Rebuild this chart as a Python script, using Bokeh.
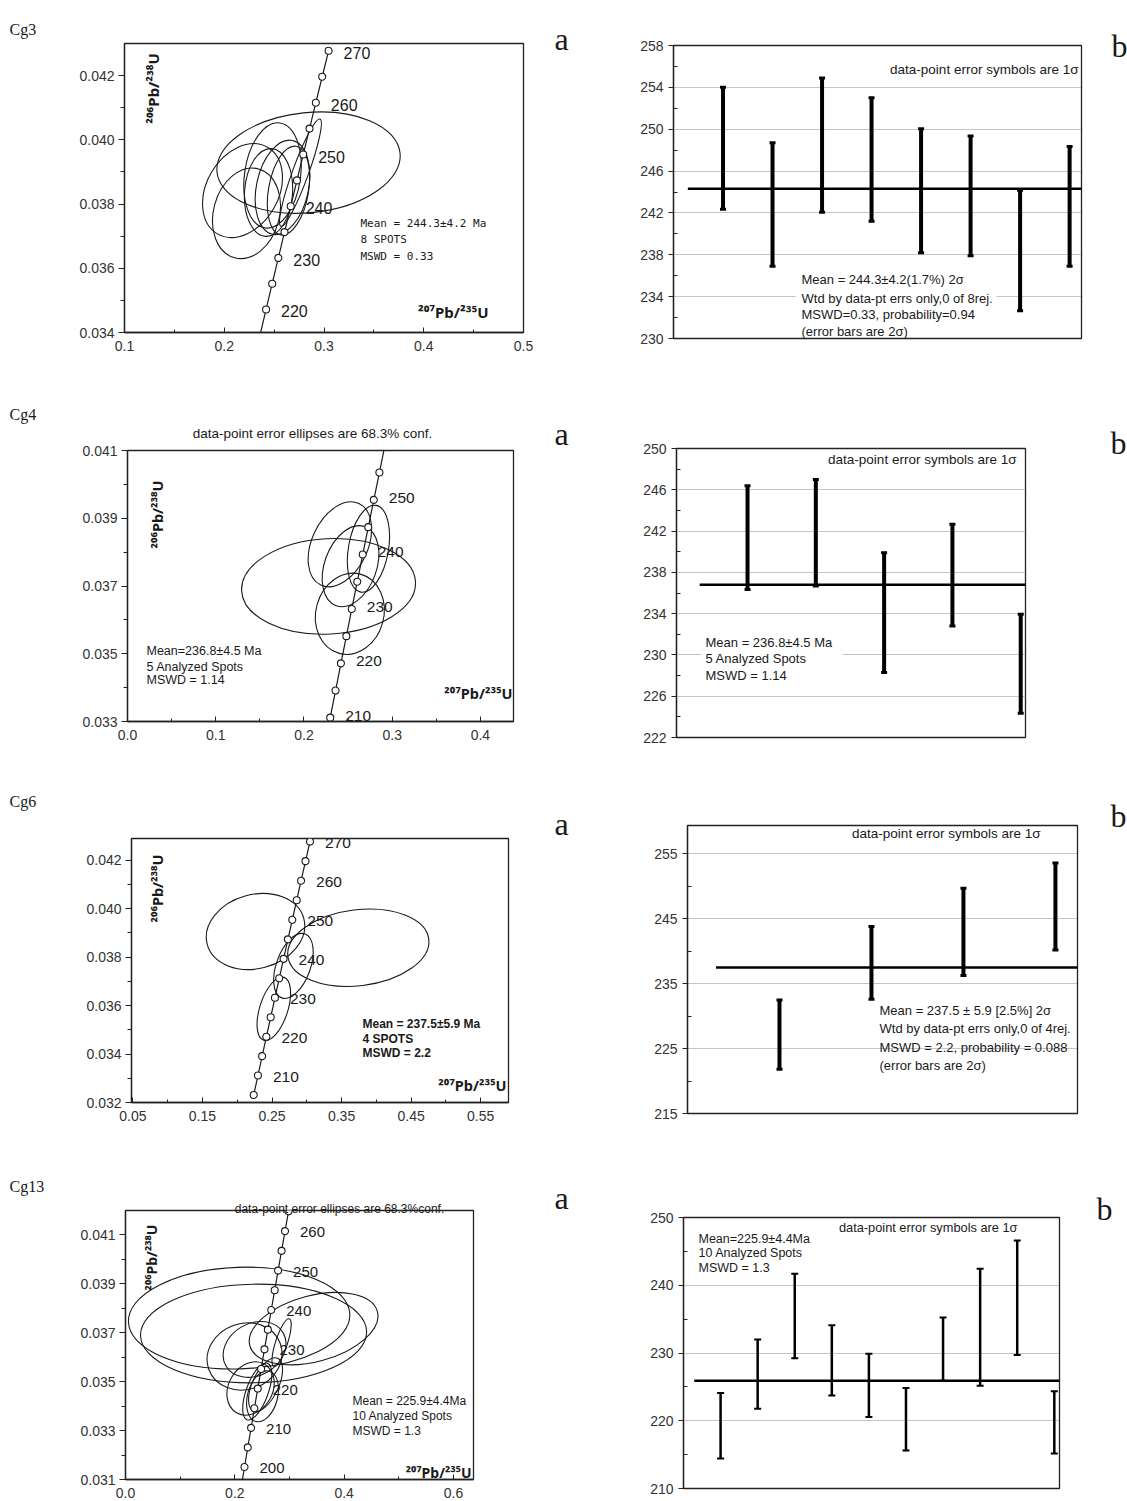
from bokeh.plotting import figure
from bokeh.layouts import column
from bokeh.models import FixedTicker, PrintfTickFormatter, Label, BoxAnnotation, GridBox
from bokeh.embed import file_html
from bokeh.resources import INLINE
from bokeh.core.properties import value

# ---------------- DATA ----------------
# concordia reference points (age in Ma, 207Pb/235U, 206Pb/238U)
conc_age = [195, 200, 205, 210, 215, 220, 225, 230, 235, 240, 245, 250, 255, 260, 265, 270, 275]
conc_r207 = [0.21173, 0.21771, 0.22372, 0.22976, 0.23583, 0.24193, 0.24806, 0.25422,
             0.26041, 0.26664, 0.27289, 0.27917, 0.28549, 0.29183, 0.29821, 0.30462, 0.31106]
conc_r206 = [0.030711, 0.031511, 0.032312, 0.033113, 0.033914, 0.034717, 0.035519, 0.036323,
             0.037127, 0.037931, 0.038737, 0.039543, 0.040350, 0.041157, 0.041965, 0.042773, 0.043582]

# Cg3 concordia ellipses
cg3_ell_x = [0.2845, 0.2183, 0.2223, 0.2484, 0.2584, 0.2764, 0.2644, 0.2444]
cg3_ell_y = [0.03929, 0.03842, 0.03771, 0.03889, 0.03852, 0.03898, 0.03842, 0.03836]
cg3_ell_w = [0.1845, 0.1003, 0.0922, 0.1063, 0.0962, 0.1143, 0.0902, 0.0882]
cg3_ell_h = [0.003114, 0.002242, 0.002055, 0.001744, 0.00162, 0.000498, 0.001246, 0.001495]
cg3_ell_ang = [6, 60, 75, 82, 78, 70, 80, 86]
cg3_ages = (215, 270)
cg3_age_labels = [220, 230, 240, 250, 260, 270]
cg3_x_ticks = [0.1, 0.2, 0.3, 0.4, 0.5]
cg3_x_minor = [0.15, 0.25, 0.35, 0.45]
cg3_y_ticks = [0.034, 0.036, 0.038, 0.040, 0.042]
cg3_y_minor = [0.035, 0.037, 0.039, 0.041]

# Cg4 concordia ellipses
cg4_ell_x = [0.2279, 0.2407, 0.2528, 0.2731, 0.2520]
cg4_ell_y = [0.03699, 0.03823, 0.037585, 0.03810, 0.03618]
cg4_ell_w = [0.1973, 0.1020, 0.0952, 0.0998, 0.0930]
cg4_ell_h = [0.002816, 0.001653, 0.001535, 0.001180, 0.002007]
cg4_ell_ang = [3, 65, 70, 80, 75]
cg4_ages = (205, 260)
cg4_age_labels = [210, 220, 230, 240, 250]
cg4_x_ticks = [0.0, 0.1, 0.2, 0.3, 0.4]
cg4_x_minor = [0.05, 0.15, 0.25, 0.35]
cg4_y_ticks = [0.033, 0.035, 0.037, 0.039, 0.041]
cg4_y_minor = [0.034, 0.036, 0.038, 0.040]

# Cg6 concordia ellipses
cg6_ell_x = [0.2263, 0.3741, 0.2808, 0.2526]
cg6_ell_y = [0.03906, 0.03839, 0.03764, 0.03587]
cg6_ell_w = [0.1438, 0.2041, 0.0978, 0.0949]
cg6_ell_h = [0.003055, 0.003138, 0.001404, 0.001156]
cg6_ell_ang = [15, 7, 70, 72]
cg6_ages = (205, 270)
cg6_age_labels = [210, 220, 230, 240, 250, 260, 270]
cg6_x_ticks = [0.05, 0.15, 0.25, 0.35, 0.45, 0.55]
cg6_x_minor = [0.10, 0.20, 0.30, 0.40, 0.50]
cg6_y_ticks = [0.032, 0.034, 0.036, 0.038, 0.040, 0.042]
cg6_y_minor = [0.033, 0.035, 0.037, 0.039, 0.041]

# Cg13 concordia ellipses
cg13_ell_x = [0.2079, 0.2343, 0.3441, 0.2178, 0.2361, 0.2288, 0.2410, 0.2855, 0.2562, 0.2507]
cg13_ell_y = [0.03760, 0.03697, 0.03717, 0.03603, 0.03632, 0.03472, 0.03460, 0.03660, 0.03488, 0.03440]
cg13_ell_w = [0.4052, 0.4136, 0.2416, 0.1391, 0.1208, 0.1025, 0.1098, 0.0915, 0.1062, 0.0952]
cg13_ell_h = [0.004155, 0.004032, 0.002700, 0.002700, 0.002126, 0.001800, 0.000900, 0.000490, 0.001063, 0.001227]
cg13_ell_ang = [2, 1, 15, 20, 30, 60, 70, 72, 65, 75]
cg13_ages = (195, 265)
cg13_age_labels = [200, 210, 220, 230, 240, 250, 260]
cg13_x_ticks = [0.0, 0.2, 0.4, 0.6]
cg13_x_minor = [0.1, 0.3, 0.5]
cg13_y_ticks = [0.031, 0.033, 0.035, 0.037, 0.039, 0.041]
cg13_y_minor = [0.032, 0.034, 0.036, 0.038, 0.040]

# weighted mean age plots (2 sigma bar ends, Ma)
cg3_wm_hi = [254.0, 248.7, 254.9, 253.0, 250.05, 249.35, 244.16, 248.36]
cg3_wm_lo = [242.35, 236.9, 242.06, 241.2, 238.2, 237.9, 232.64, 236.9]
cg3_wm_mean = 244.3
cg3_wm_ticks = [230, 234, 238, 242, 246, 250, 254, 258]
cg3_wm_minor = [232, 236, 240, 244, 248, 252, 256]

cg4_wm_hi = [246.4, 247.0, 239.9, 242.65, 233.95]
cg4_wm_lo = [236.34, 236.67, 228.3, 232.8, 224.34]
cg4_wm_mean = 236.8
cg4_wm_ticks = [222, 226, 230, 234, 238, 242, 246, 250]
cg4_wm_minor = [224, 228, 232, 236, 240, 244, 248]

cg6_wm_hi = [232.5, 243.8, 249.7, 253.6]
cg6_wm_lo = [221.8, 232.6, 236.25, 240.2]
cg6_wm_mean = 237.5
cg6_wm_ticks = [215, 225, 235, 245, 255]
cg6_wm_minor = [220, 230, 240, 250]

cg13_wm_hi = [224.08, 232.0, 241.69, 234.11, 229.88, 224.82, 235.24, 242.43, 246.61, 224.37]
cg13_wm_lo = [214.44, 221.77, 229.24, 223.73, 220.54, 215.62, 225.9, 225.16, 229.69, 215.17]
cg13_wm_mean = 225.9
cg13_wm_ticks = [210, 220, 230, 240, 250]
cg13_wm_minor = [215, 225, 235, 245]

# ---------------- LAYOUT (page pixels) ----------------
# (origin x, origin y, width, height, frame left, top, right, bottom)
G1 = (0, 0, 575, 385, 124, 43, 523, 332)
G2 = (575, 0, 552, 385, 673, 45, 1081, 338)
G3 = (0, 385, 575, 380, 127, 450, 513, 721)
G4 = (575, 385, 552, 380, 676, 448, 1025, 737)
G5 = (0, 765, 575, 382, 131, 838, 508, 1102)
G6 = (575, 765, 552, 382, 687, 825, 1077, 1113)
G7 = (0, 1147, 575, 354, 125, 1210, 473, 1479)
G8 = (575, 1147, 552, 354, 683, 1217, 1059, 1488)
PAGE_W, PAGE_H = 1127, 1501

INK = "#1a1a1a"
SANS = "Liberation Sans"
SERIF = "Liberation Serif"
LBLFONT = "Noto Sans"

GEOM = {}


def make_fig(G, xr, yr):
    ox, oy, W, H, L, T, R, B = G
    p = figure(width=W, height=H, x_range=xr, y_range=yr, output_backend="svg",
               toolbar_location=None, min_border_left=L - ox, min_border_right=ox + W - R,
               min_border_top=T - oy, min_border_bottom=oy + H - B)
    p.background_fill_color = "white"
    p.border_fill_color = "white"
    p.outline_line_color = "#222222"
    p.outline_line_width = 1.3
    p.outline_line_alpha = 1.0
    p.xgrid.visible = False
    p.ygrid.visible = False
    GEOM[p.id] = (G, xr, yr)
    return p


def to_data(p, px, py):
    G, xr, yr = GEOM[p.id]
    ox, oy, W, H, L, T, R, B = G
    x = xr[0] + (px - L) / (R - L) * (xr[1] - xr[0])
    y = yr[0] + (B - py) / (B - T) * (yr[1] - yr[0])
    return x, y


def put(p, px, py, text, size, font=SANS, align="left", baseline="middle",
        style="normal", angle=0, color=INK):
    x, y = to_data(p, px, py)
    p.add_layout(Label(x=x, y=y, text=text, text_font=font, text_font_size=f"{size}px",
                       text_align=align, text_baseline=baseline, text_font_style=style,
                       angle=angle, angle_units="deg", text_color=color))


def white_box(p, l, r, t, b):
    x0, y0 = to_data(p, l, b)
    x1, y1 = to_data(p, r, t)
    p.add_layout(BoxAnnotation(left=x0, right=x1, bottom=y0, top=y1, fill_color="white",
                               fill_alpha=1.0, line_alpha=0.0, level="annotation"))


def style_axis(ax):
    ax.axis_line_color = "#222222"
    ax.axis_line_width = 1.3
    ax.major_tick_line_color = "#222222"
    ax.minor_tick_line_color = "#222222"
    ax.major_label_text_font = SANS
    ax.major_label_text_font_size = "14px"
    ax.major_label_text_color = "#333333"


def conc_panel(G, xr, yr, xt, xm, yt, ym, xfmt, ages, age_lbls, lbl_size, lbl_dy,
               ex, ey, ew, eh, ea):
    p = make_fig(G, xr, yr)
    style_axis(p.xaxis[0])
    style_axis(p.yaxis[0])
    p.xaxis.ticker = FixedTicker(ticks=xt, minor_ticks=xm)
    p.yaxis.ticker = FixedTicker(ticks=yt, minor_ticks=ym)
    p.xaxis.formatter = PrintfTickFormatter(format=xfmt)
    p.yaxis.formatter = PrintfTickFormatter(format="%.3f")
    p.xaxis.major_tick_in = 5
    p.xaxis.major_tick_out = 0
    p.xaxis.minor_tick_in = 3
    p.xaxis.minor_tick_out = 0
    p.xaxis.major_label_standoff = 8
    p.yaxis.major_tick_in = 0
    p.yaxis.major_tick_out = 6
    p.yaxis.minor_tick_in = 0
    p.yaxis.minor_tick_out = 4
    p.yaxis.major_label_standoff = 4

    p.ellipse(x=ex, y=ey, width=ew, height=eh, angle=ea, angle_units="deg",
              fill_color=None, line_color=INK, line_width=1.1)
    idx = [i for i, a in enumerate(conc_age) if ages[0] <= a <= ages[1]]
    p.line([conc_r207[i] for i in idx], [conc_r206[i] for i in idx],
           line_color=INK, line_width=1.2)
    mk = [i for i in idx if yr[0] <= conc_r206[i] <= yr[1]]
    p.scatter([conc_r207[i] for i in mk], [conc_r206[i] for i in mk], marker="circle",
              size=7, fill_color="white", line_color=INK, line_width=1.1)
    li = [conc_age.index(a) for a in age_lbls]
    p.text(x=[conc_r207[i] for i in li], y=[conc_r206[i] for i in li],
           text=[str(a) for a in age_lbls], x_offset=15, y_offset=lbl_dy,
           text_baseline="middle", text_align="left", text_font=value(SANS),
           text_font_size=f"{lbl_size}px", text_color=INK)
    return p


def wm_panel(G, xr, yr, hi, lo, mean, ticks, minor, bar_w, cap_size, cap_w, mean_x0):
    p = make_fig(G, xr, yr)
    p.xaxis.visible = False
    style_axis(p.yaxis[0])
    p.yaxis.ticker = FixedTicker(ticks=ticks, minor_ticks=minor)
    p.yaxis.major_tick_in = 0
    p.yaxis.major_tick_out = 5
    p.yaxis.minor_tick_in = 4
    p.yaxis.minor_tick_out = 0
    p.yaxis.major_label_standoff = 5
    p.ygrid.visible = True
    p.ygrid.ticker = FixedTicker(ticks=[t for t in ticks if yr[0] < t < yr[1] - 0.5])
    p.ygrid.grid_line_color = "#8a8a8a"
    p.ygrid.grid_line_dash = "1 1"
    p.ygrid.grid_line_width = 1
    xs = list(range(1, len(hi) + 1))
    p.segment(x0=xs, y0=lo, x1=xs, y1=hi, line_color="black", line_width=bar_w)
    p.scatter(xs, hi, marker="dash", size=cap_size, line_width=cap_w, line_color="black")
    p.scatter(xs, lo, marker="dash", size=cap_size, line_width=cap_w, line_color="black")
    p.segment(x0=[mean_x0], y0=[mean], x1=[xr[1]], y1=[mean], line_color="black", line_width=2.5)
    return p


Y206 = "\u00b2\u2070\u2076Pb/\u00b2\u00b3\u2078U"
X207 = "\u00b2\u2070\u2077Pb/\u00b2\u00b3\u2075U"

# ---- Row 1 : Cg3 ----
p1 = conc_panel(G1, (0.1, 0.5), (0.034, 0.043), cg3_x_ticks, cg3_x_minor, cg3_y_ticks,
                cg3_y_minor, "%.1f", cg3_ages, cg3_age_labels, 16, 2,
                cg3_ell_x, cg3_ell_y, cg3_ell_w, cg3_ell_h, cg3_ell_ang)
put(p1, 152, 88, Y206, 15, font=LBLFONT, align="center", style="bold", angle=90)
put(p1, 488, 311, X207, 15, font=LBLFONT, align="right", style="bold")
for k, t in enumerate(["Mean = 244.3\u00b14.2 Ma", " 8 SPOTS", "MSWD = 0.33"]):
    put(p1, 360, [223, 239, 256][k], t, 11, font="DejaVu Sans Mono")

p2 = wm_panel(G2, (0, 8.24), (230, 258), cg3_wm_hi, cg3_wm_lo, cg3_wm_mean,
              cg3_wm_ticks, cg3_wm_minor, 4, 6, 3, 0.29)
put(p2, 1078, 69, "data-point error symbols are 1\u03c3", 13.5, align="right")
white_box(p2, 795, 996, 271, 336)
for k, t in enumerate(["Mean = 244.3\u00b14.2(1.7%) 2\u03c3", "Wtd by data-pt errs only,0 of 8rej.",
                       "MSWD=0.33, probability=0.94", "(error bars are 2\u03c3)"]):
    put(p2, 801, [279, 297.5, 314, 330.5][k], t, 13)

# ---- Row 2 : Cg4 ----
p3 = conc_panel(G3, (0.0, 0.4375), (0.033, 0.041), cg4_x_ticks, cg4_x_minor, cg4_y_ticks,
                cg4_y_minor, "%.1f", cg4_ages, cg4_age_labels, 15.5, -2,
                cg4_ell_x, cg4_ell_y, cg4_ell_w, cg4_ell_h, cg4_ell_ang)
put(p3, 156, 514, Y206, 14.5, font=LBLFONT, align="center", style="bold", angle=90)
put(p3, 512, 692, X207, 14.5, font=LBLFONT, align="right", style="bold")
for k, t in enumerate(["Mean=236.8\u00b14.5 Ma", "5 Analyzed Spots", "MSWD = 1.14"]):
    put(p3, 146, [650, 666, 679][k], t, 12.5)

p4 = wm_panel(G4, (-0.04, 5.07), (222, 250), cg4_wm_hi, cg4_wm_lo, cg4_wm_mean,
              cg4_wm_ticks, cg4_wm_minor, 4, 6, 3, 0.30)
put(p4, 1016, 459, "data-point error symbols are 1\u03c3", 13.5, align="right")
white_box(p4, 701, 842, 634, 683)
for k, t in enumerate(["Mean = 236.8\u00b14.5 Ma", "5 Analyzed Spots", "MSWD = 1.14"]):
    put(p4, 705, [642, 658, 675][k], t, 13)

# ---- Row 3 : Cg6 ----
p5 = conc_panel(G5, (0.048, 0.59), (0.032, 0.0429), cg6_x_ticks, cg6_x_minor, cg6_y_ticks,
                cg6_y_minor, "%.2f", cg6_ages, cg6_age_labels, 15.5, 1,
                cg6_ell_x, cg6_ell_y, cg6_ell_w, cg6_ell_h, cg6_ell_ang)
put(p5, 156, 888, Y206, 14.5, font=LBLFONT, align="center", style="bold", angle=90)
put(p5, 506, 1084, X207, 14.5, font=LBLFONT, align="right", style="bold")
for k, t in enumerate(["Mean = 237.5\u00b15.9 Ma", " 4 SPOTS", "MSWD = 2.2"]):
    put(p5, 362, [1023, 1038, 1052][k], t, 12, style="bold")

p6 = wm_panel(G6, (0, 4.24), (215, 259.36), cg6_wm_hi, cg6_wm_lo, cg6_wm_mean,
              cg6_wm_ticks, cg6_wm_minor, 4, 6, 3, 0.31)
put(p6, 1040, 833, "data-point error symbols are 1\u03c3", 13.5, align="right")
for k, t in enumerate(["Mean = 237.5 \u00b1 5.9  [2.5%]  2\u03c3", "Wtd by data-pt errs only,0 of 4rej.",
                       "MSWD = 2.2, probability = 0.088", "(error bars are 2\u03c3)"]):
    put(p6, 879, [1010, 1028, 1047, 1065][k], t, 13)

# ---- Row 4 : Cg13 ----
p7 = conc_panel(G7, (0.0, 0.6366), (0.031, 0.042), cg13_x_ticks, cg13_x_minor, cg13_y_ticks,
                cg13_y_minor, "%.1f", cg13_ages, cg13_age_labels, 15, 1,
                cg13_ell_x, cg13_ell_y, cg13_ell_w, cg13_ell_h, cg13_ell_ang)
put(p7, 151, 1257, Y206, 14, font=LBLFONT, align="center", style="bold", angle=90)
put(p7, 471, 1472, X207, 14, font=LBLFONT, align="right", style="bold")
for k, t in enumerate(["Mean = 225.9\u00b14.4Ma", "10 Analyzed Spots", "MSWD = 1.3"]):
    put(p7, 352, [1400, 1415, 1430][k], t, 12)

p8 = wm_panel(G8, (0, 10.14), (210, 250), cg13_wm_hi, cg13_wm_lo, cg13_wm_mean,
              cg13_wm_ticks, cg13_wm_minor, 2.5, 7, 2, 0.29)
put(p8, 1017, 1227, "data-point error symbols are 1\u03c3", 12.8, align="right")
for k, t in enumerate(["Mean=225.9\u00b14.4Ma", "10 Analyzed Spots", "MSWD = 1.3"]):
    put(p8, 698, [1238, 1252, 1267][k], t, 12.5)

# ---- transparent page overlay for texts that lie outside the plot frames ----
ov = figure(width=PAGE_W, height=PAGE_H, x_range=(0, PAGE_W), y_range=(PAGE_H, 0),
            output_backend="svg", toolbar_location=None, min_border=0)
ov.xaxis.visible = False
ov.yaxis.visible = False
ov.xgrid.visible = False
ov.ygrid.visible = False
ov.outline_line_color = None
ov.background_fill_alpha = 0.0
ov.border_fill_alpha = 0.0


def ov_text(px, py, text, size, font=SANS, align="left", baseline="alphabetic"):
    ov.add_layout(Label(x=px, y=py, text=text, text_font=font, text_font_size=f"{size}px",
                        text_align=align, text_baseline=baseline, text_color=INK))


for name, yb in (("Cg3", 29), ("Cg4", 414), ("Cg6", 801), ("Cg13", 1186)):
    ov_text(9, yb, name, 16, font=SERIF)
for yb in (38, 433, 823, 1197):
    ov_text(554, yb, "a", 32, font=SERIF)
for xb, yb in ((1111, 45), (1110, 442), (1110, 815), (1096, 1208)):
    ov_text(xb, yb, "b", 32, font=SERIF)
ov_text(312, 433, "data-point error ellipses are 68.3% conf.", 13.5, align="center",
        baseline="middle")
ov_text(339, 1208.5, "data-point error ellipses are 68.3%conf.", 12, align="center")

layout = GridBox(children=[(column(p1), 0, 0), (column(p2), 0, 1), (column(p3), 1, 0),
                           (column(p4), 1, 1), (column(p5), 2, 0), (column(p6), 2, 1),
                           (column(p7), 3, 0), (column(p8), 3, 1),
                           (column(ov), 0, 0, 4, 2)])
open("out.html", "w").write(file_html(layout, INLINE))
